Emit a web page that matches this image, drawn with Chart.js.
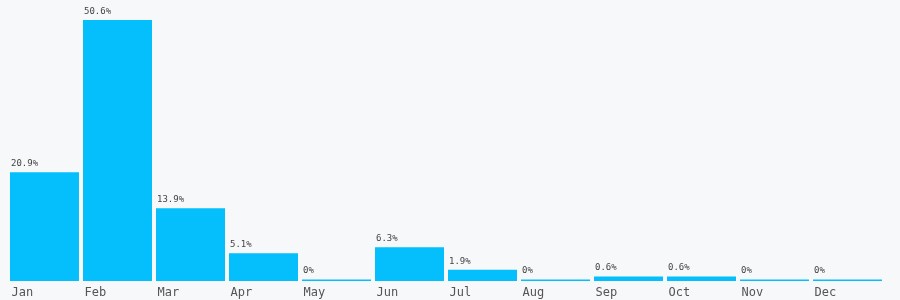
<!DOCTYPE html>
<html>
<head>
<meta charset="utf-8">
<script src="https://cdn.jsdelivr.net/npm/chart.js@4/dist/chart.umd.min.js"></script>
<style>
    html, body { margin: 0; padding: 0; background: #f7f8fa; }
    #wrap { width: 900px; height: 300px; }
</style>
</head>
<body>
<div id="wrap"><canvas id="bars"></canvas></div>
<script>
// months and share per month (%)
const months = ["Jan", "Feb", "Mar", "Apr", "May", "Jun", "Jul", "Aug", "Sep", "Oct", "Nov", "Dec"];
const shares = [20.9, 50.6, 13.9, 5.1, 0, 6.3, 1.9, 0, 0.6, 0.6, 0, 0];

// writes "12.3%" above the left edge of each bar
const valueLabels = {
    id: "valueLabels",
    afterDatasetsDraw(chart) {
        const ctx = chart.ctx;
        const meta = chart.getDatasetMeta(0);
        ctx.save();
        ctx.font = "9px 'DejaVu Sans Mono', monospace";
        ctx.fillStyle = "#444";
        ctx.textAlign = "left";
        ctx.textBaseline = "bottom";
        meta.data.forEach((bar, i) => {
            let left = bar.x - bar.width / 2;
            ctx.fillText(shares[i] + "%", left + 1, bar.y - 4);
        });
        ctx.restore();
    }
};

const config = {
    type: "bar",
    data: {
        labels: months,
        datasets: [
            {
                data: shares,
                base: -0.3,
                backgroundColor: "#04bffb",
                borderWidth: 0,
                categoryPercentage: 1,
                barPercentage: 0.945
            }
        ]
    },
    options: {
        responsive: false,
        animation: false,
        layout: { padding: { left: 8, right: 16, top: 20, bottom: 0 } },
        plugins: { legend: { display: false }, tooltip: { enabled: false } },
        scales: {
            x: {
                grid: { display: false, drawTicks: false },
                border: { display: false },
                afterFit: (axis) => { axis.height = 19; },
                ticks: {
                    color: "#555",
                    font: { family: "'DejaVu Sans Mono', monospace", size: 12 },
                    align: "start",
                    labelOffset: -33,
                    padding: 5,
                    maxRotation: 0,
                    autoSkip: false
                }
            },
            y: {
                display: false,
                min: -0.3,
                max: 50.6
            }
        }
    },
    plugins: [valueLabels]
};

const cv = document.getElementById("bars");
cv.width = 900;
cv.height = 300;
new Chart(cv.getContext("2d"), config);
</script>
</body>
</html>
